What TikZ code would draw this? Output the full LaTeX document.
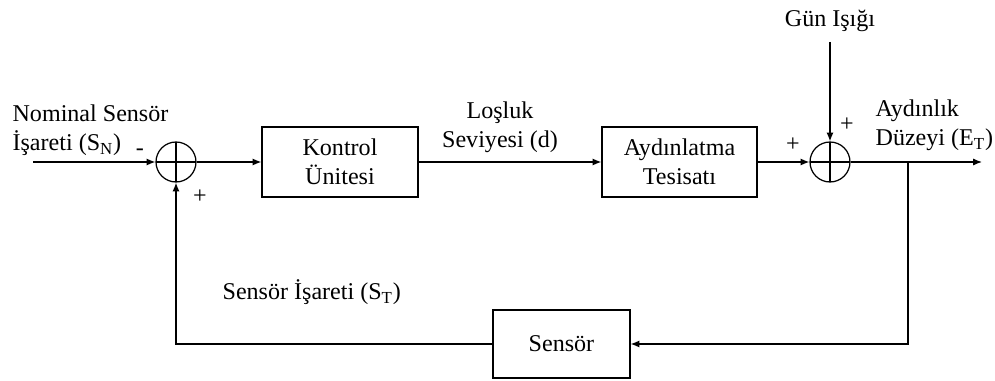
\documentclass[tikz,border=0pt]{standalone}
\usepackage{fontspec}
\setmainfont{Liberation Serif}
\usetikzlibrary{arrows.meta}

\tikzset{
  blok/.style={draw, minimum width=3.12cm, minimum height=1.4cm, align=center},
  toplam/.style={draw, circle, minimum size=0.8cm, inner sep=0pt,
    path picture={\draw (path picture bounding box.north) -- (path picture bounding box.south)
      (path picture bounding box.west) -- (path picture bounding box.east);}},
  ok/.style={-{Latex[length=5pt,width=4pt]}},
  etiket/.style={inner sep=0pt}
}

\begin{document}
\begin{tikzpicture}[x=0.02cm, y=-0.02cm, line width=0.7pt, font=\fontsize{13.7}{16.5}\selectfont]
\useasboundingbox (0,0) rectangle (995,381);

% bloklar
\node[toplam] (t1) at (176,162) {};
\node[blok] (kontrol) at (340,162) {Kontrol\\Ünitesi};
\node[blok, minimum width=3.1cm] (aydin) at (679.5,162) {Aydınlatma\\Tesisatı};
\node[toplam] (t2) at (830,162) {};
\node[blok, minimum width=2.74cm, minimum height=1.36cm] (sensor) at (561.5,344) {Sensör};

% uc noktalar
\coordinate (giris) at (33,162);
\coordinate (cikis) at (982,162);
\coordinate (dal) at (908,162);
\coordinate (gunust) at (830,42);

% baglantilar
\draw[ok] (giris) -- (t1);
\draw[ok] (t1) -- (kontrol);
\draw[ok] (kontrol) -- (aydin);
\draw[ok] (aydin) -- (t2);
\draw[ok] (t2) -- (cikis);
\draw[ok] (gunust) -- (t2);
\draw[ok] (dal) |- (sensor);
\draw[ok] (sensor) -| (t1);

% etiketler
\node[etiket, align=left, anchor=north west] (nominal) at (12,104) {Nominal Sensör\\İşareti (S\textsubscript{N})};
\node[etiket, align=center, anchor=north] (losluk) at (500,101) {Loşluk\\Seviyesi (d)};
\node[etiket, align=left, anchor=north west] (aydinlik) at (875,99) {Aydınlık\\Düzeyi (E\textsubscript{T})};
\node[etiket, anchor=base] (gun) at (830,27) {Gün Işığı};
\node[etiket, anchor=base west] (sinyal) at (222,300) {Sensör İşareti (S\textsubscript{T})};
\node (eksi) at (140,152) {-};
\node (arti1) at (200,197) {+};
\node (arti2) at (793,145) {+};
\node (arti3) at (847,125) {+};
\end{tikzpicture}
\end{document}
